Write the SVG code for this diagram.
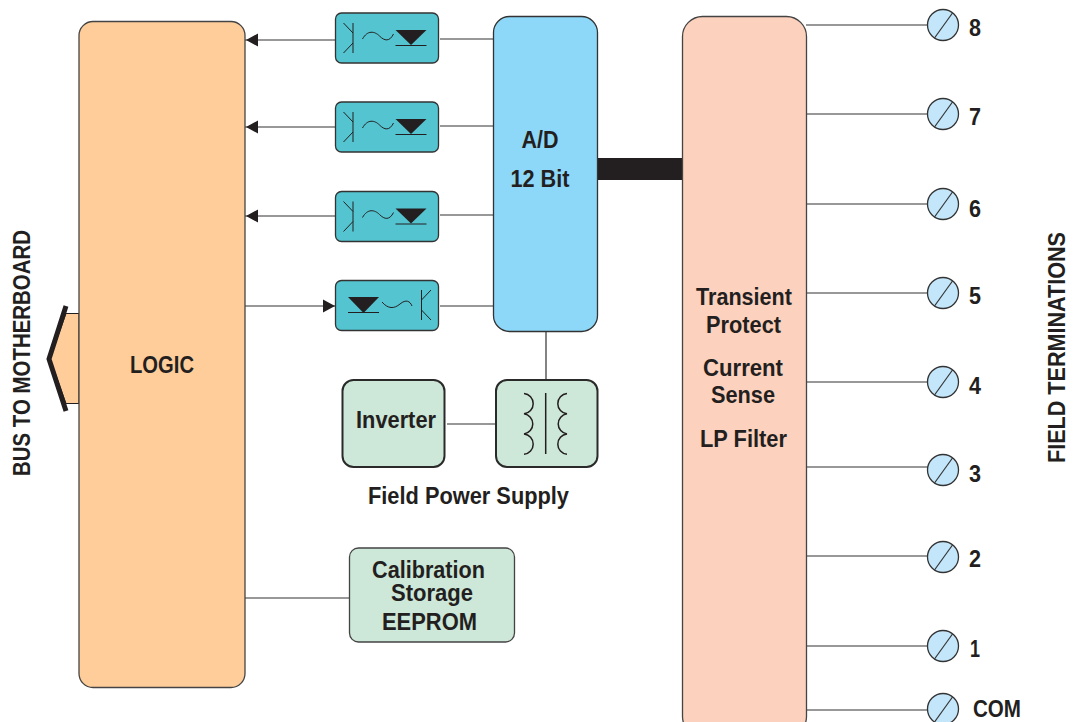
<svg xmlns="http://www.w3.org/2000/svg" width="1074" height="722" viewBox="0 0 1074 722">
<defs>
<style>
.t{font-family:"Liberation Sans",Arial,sans-serif;font-weight:700;fill:#231f20;font-size:24px;text-anchor:middle}
.w{fill:none;stroke:#333;stroke-width:1.2}
.sym{fill:none;stroke:#231f20;stroke-width:1}
.scrc{fill:#c3e6fa;stroke:#333;stroke-width:1.3}
.scrl{stroke:#333;stroke-width:1.2}
.optob{fill:#54c5d0;stroke:#333;stroke-width:1.3}
.mag{fill:#cde7d8;stroke:#2a2a2a;stroke-width:2}
</style>
<g id="optoR">
<rect class="optob" x="0" y="0" width="103" height="50" rx="6"/>
<path class="sym" d="M17.500 10V40M8 10L17.500 20M8 40L17.500 30"/>
<path class="sym" d="M27 26C32 17 39 18 44 23C49 28 54 29 58 21"/>
<path d="M60 17H91L75.500 32Z" fill="#231f20"/>
<path class="sym" d="M60 32.500H91"/>
</g>
<g id="screw">
<circle class="scrc" cx="0" cy="0" r="15.500"/>
<line class="scrl" x1="-8.500" y1="13" x2="9.500" y2="-12"/>
</g>
</defs>
<rect width="1074" height="722" fill="#fff"/>
<g id="connectors">
<path class="w" d="M245 40H335M245 127H335M245 216H335M245 306H335M440 39H494M440 126H494M440 215H494M440 306H494M546 332V380M447 424H496M245 598H349"/>
<path class="w" d="M806 25H928M806 114H928M806 204H928M806 293H928M806 382H928M806 467H928M806 556H928M806 646H928M806 710H928"/>
<path d="M597 158H683V180H597Z" fill="#231f20"/>
<path d="M246 40L258 33.500V46.500ZM246 127L258 120.500V133.500ZM246 216L258 209.500V222.500ZM335 306L323 299.500V312.500Z" fill="#231f20"/>
</g>
<g id="bus">
<path d="M79 313.500H66L50 358.500L66 403.500H79Z" fill="#fecd9a" stroke="#231f20" stroke-width="1"/>
<path d="M66 306L49 359L66 411" fill="none" stroke="#231f20" stroke-width="5"/>
</g>
<g id="logic"><rect x="79" y="21.500" width="166" height="666" rx="14" fill="#fecd9a" stroke="#444" stroke-width="1.300"/><text class="t" x="162" y="373" textLength="64" lengthAdjust="spacingAndGlyphs">LOGIC</text></g>
<g id="opto1"><use href="#optoR" x="335.500" y="13"/></g>
<g id="opto2"><use href="#optoR" x="335.500" y="102"/></g>
<g id="opto3"><use href="#optoR" x="335.500" y="191.500"/></g>
<g id="opto4">
<rect class="optob" x="335.500" y="280.500" width="103" height="50" rx="6"/>
<path d="M348 297H379L363.500 313Z" fill="#231f20"/>
<path class="sym" d="M348 312.500H379M382 302C388 309 394 309 400 304C406 299 410 301 412 306M421.500 290V320M431 290L421.500 300M431 320L421.500 310"/>
</g>
<g id="ad"><rect x="493.500" y="16.500" width="104" height="315" rx="16" fill="#8dd8f8" stroke="#333" stroke-width="1.300"/><text class="t" x="540" y="148" textLength="37" lengthAdjust="spacingAndGlyphs">A/D</text><text class="t" x="540" y="187" textLength="59" lengthAdjust="spacingAndGlyphs">12 Bit</text></g>
<g id="inverter"><rect class="mag" x="342.500" y="380" width="102" height="87" rx="11"/><text class="t" x="396" y="428" textLength="80" lengthAdjust="spacingAndGlyphs">Inverter</text></g>
<g id="transformer"><rect class="mag" x="496" y="380" width="101.500" height="87" rx="11"/>
<path fill="none" stroke="#231f20" stroke-width="1.500" d="M545.700 393V454M524 393.500A10.200 10.200 0 0 1 524 413.800A10.200 10.200 0 0 1 524 434A10.200 10.200 0 0 1 524 454.300M567 393.500A10.200 10.200 0 0 0 567 413.800A10.200 10.200 0 0 0 567 434A10.200 10.200 0 0 0 567 454.300"/></g>
<g id="fps"><text class="t" x="468.500" y="504" textLength="201" lengthAdjust="spacingAndGlyphs">Field Power Supply</text></g>
<g id="eeprom"><rect x="349.500" y="548" width="165" height="94" rx="9" fill="#cde7d8" stroke="#444" stroke-width="1.300"/><text class="t" x="428.500" y="578" textLength="113" lengthAdjust="spacingAndGlyphs">Calibration</text><text class="t" x="432" y="601" textLength="82" lengthAdjust="spacingAndGlyphs">Storage</text><text class="t" x="429.500" y="630" textLength="95" lengthAdjust="spacingAndGlyphs">EEPROM</text></g>
<g id="protect"><rect x="682.500" y="16.500" width="124" height="720" rx="20" fill="#fcd1bd" stroke="#444" stroke-width="1.300"/><text class="t" x="744" y="305" textLength="96" lengthAdjust="spacingAndGlyphs">Transient</text><text class="t" x="743.500" y="333" textLength="75" lengthAdjust="spacingAndGlyphs">Protect</text><text class="t" x="743" y="376" textLength="80" lengthAdjust="spacingAndGlyphs">Current</text><text class="t" x="743" y="403" textLength="64" lengthAdjust="spacingAndGlyphs">Sense</text><text class="t" x="743.500" y="447" textLength="87" lengthAdjust="spacingAndGlyphs">LP Filter</text></g>
<g id="t8"><use href="#screw" x="943" y="25"/><text class="t" x="975" y="36" textLength="12" lengthAdjust="spacingAndGlyphs">8</text></g>
<g id="t7"><use href="#screw" x="943" y="114"/><text class="t" x="975" y="125" textLength="12" lengthAdjust="spacingAndGlyphs">7</text></g>
<g id="t6"><use href="#screw" x="943" y="204"/><text class="t" x="975" y="217" textLength="12" lengthAdjust="spacingAndGlyphs">6</text></g>
<g id="t5"><use href="#screw" x="943" y="293"/><text class="t" x="975" y="304" textLength="12" lengthAdjust="spacingAndGlyphs">5</text></g>
<g id="t4"><use href="#screw" x="943" y="382"/><text class="t" x="975" y="394" textLength="12" lengthAdjust="spacingAndGlyphs">4</text></g>
<g id="t3"><use href="#screw" x="943" y="470"/><text class="t" x="975" y="482" textLength="12" lengthAdjust="spacingAndGlyphs">3</text></g>
<g id="t2"><use href="#screw" x="943" y="557"/><text class="t" x="975" y="567" textLength="12" lengthAdjust="spacingAndGlyphs">2</text></g>
<g id="t1"><use href="#screw" x="943" y="646"/><text class="t" x="975" y="657" textLength="10" lengthAdjust="spacingAndGlyphs">1</text></g>
<g id="tcom"><use href="#screw" x="943" y="709"/><text class="t" x="997" y="717" textLength="48" lengthAdjust="spacingAndGlyphs">COM</text></g>
<text class="t" transform="translate(30 353) rotate(-90)" textLength="246" lengthAdjust="spacingAndGlyphs">BUS TO MOTHERBOARD</text>
<text class="t" transform="translate(1065 347.500) rotate(-90)" textLength="231" lengthAdjust="spacingAndGlyphs">FIELD TERMINATIONS</text>
</svg>
